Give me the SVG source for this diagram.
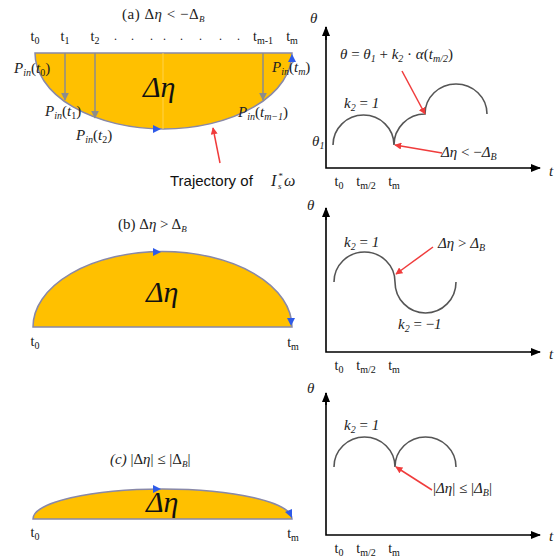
<svg xmlns="http://www.w3.org/2000/svg" width="559" height="557" viewBox="0 0 559 557">
<style>
.serif{font-family:"Liberation Serif","Times New Roman",serif;fill:#222}
.it{font-style:italic}
.t{font-family:"Liberation Serif",serif;font-size:14px;fill:#111}
.sub{font-size:10px}
.big{font-family:"Liberation Serif",serif;font-style:italic;font-size:30px;fill:#111}
.area{fill:#FFC000;stroke:#8888A8;stroke-width:1.5}
.curve{fill:none;stroke:#555;stroke-width:1.6}
.axis{fill:none;stroke:#000;stroke-width:1.6}
.red{stroke:#F03C3C;stroke-width:1.5;fill:none}
.gray{stroke:#8C8C8C;stroke-width:1.5;fill:none}
.blue{fill:#2F5BE8}
</style>
<defs>
<marker id="ar" viewBox="0 0 10 10" refX="9" refY="5" markerWidth="7" markerHeight="7" orient="auto" markerUnits="userSpaceOnUse"><path d="M0,0 L10,5 L0,10 z" fill="#F03C3C"/></marker>
<marker id="ag" viewBox="0 0 10 10" refX="9" refY="5" markerWidth="8" markerHeight="8" orient="auto" markerUnits="userSpaceOnUse"><path d="M0,0 L10,5 L0,10 z" fill="#8C8C8C"/></marker>
<marker id="ak" viewBox="0 0 10 10" refX="9" refY="5" markerWidth="10" markerHeight="10" orient="auto" markerUnits="userSpaceOnUse"><path d="M0,1 L10,5 L0,9 z" fill="#000"/></marker>
</defs>
<rect width="559" height="557" fill="#fff"/>

<!-- Panel (a) left -->
<g id="panel-a-left">
<path class="area" d="M35,53 A128.5,76 0 0,0 292,53 Z"/>
<line x1="163" y1="53" x2="163" y2="129" stroke="#FFD24D" stroke-width="1"/>
<text class="big" x="143" y="97">Δη</text>
<polygon class="blue" points="153,125 161,129 153,133"/>
<polygon class="blue" points="288,62 292,54 296,62"/>
<text class="serif" x="122" y="19" font-size="15" letter-spacing="0.5">(a)  Δ<tspan class="it">η</tspan> &lt; −Δ<tspan class="it" font-size="9" dy="3">B</tspan></text>
<text class="t" x="35" y="41" text-anchor="middle">t<tspan class="sub" dy="3">0</tspan></text>
<text class="t" x="65" y="41" text-anchor="middle">t<tspan class="sub" dy="3">1</tspan></text>
<text class="t" x="95" y="41" text-anchor="middle">t<tspan class="sub" dy="3">2</tspan></text>
<text class="t" x="263" y="41" text-anchor="middle">t<tspan class="sub" dy="3">m-1</tspan></text>
<text class="t" x="292" y="41" text-anchor="middle">t<tspan class="sub" dy="3">m</tspan></text>
<text class="serif" x="114 131 150 163 180 199 219 237" y="40" font-size="12" fill="#AAA">........</text>
<text class="serif" x="14" y="73" font-size="15"><tspan class="it">P</tspan><tspan class="it" font-size="10" dy="3">in</tspan><tspan dy="-3">(</tspan><tspan class="it">t</tspan><tspan font-size="10" dy="3">0</tspan><tspan dy="-3">)</tspan></text>
<text class="serif" x="45" y="116" font-size="15"><tspan class="it">P</tspan><tspan class="it" font-size="10" dy="3">in</tspan><tspan dy="-3">(</tspan><tspan class="it">t</tspan><tspan font-size="10" dy="3">1</tspan><tspan dy="-3">)</tspan></text>
<text class="serif" x="76" y="140" font-size="15"><tspan class="it">P</tspan><tspan class="it" font-size="10" dy="3">in</tspan><tspan dy="-3">(</tspan><tspan class="it">t</tspan><tspan font-size="10" dy="3">2</tspan><tspan dy="-3">)</tspan></text>
<text class="serif" x="238" y="117" font-size="15"><tspan class="it">P</tspan><tspan class="it" font-size="10" dy="3">in</tspan><tspan dy="-3">(</tspan><tspan class="it">t</tspan><tspan class="it" font-size="10" dy="3">m−1</tspan><tspan dy="-3">)</tspan></text>
<text class="serif" x="272" y="72" font-size="15"><tspan class="it">P</tspan><tspan class="it" font-size="10" dy="3">in</tspan><tspan dy="-3">(</tspan><tspan class="it">t</tspan><tspan class="it" font-size="10" dy="3">m</tspan><tspan dy="-3">)</tspan></text>
<text x="170" y="186" font-family="Liberation Sans, Arial, sans-serif" font-size="15" fill="#111">Trajectory of</text>
<text class="serif it" x="271" y="186" font-size="16">I</text>
<text class="serif it" x="278" y="179" font-size="9">*</text>
<text class="serif it" x="278" y="189" font-size="9">s</text>
<text class="serif it" x="284" y="186" font-size="16">ω</text>
</g>

<!-- Panel (a) right -->
<g id="panel-a-right">
<path class="curve" d="M333,145 A30.5,30 0 0,1 394,145 A31,31 0 0,1 425,114 A31,30 0 0,1 487,114"/>
<text class="serif" x="310" y="23" font-size="15"><tspan class="it">θ</tspan></text>
<text class="serif" x="549" y="176" font-size="15"><tspan class="it">t</tspan></text>
<text class="serif" x="312" y="146" font-size="15"><tspan class="it">θ</tspan><tspan class="it" font-size="10" dy="3">1</tspan></text>
<text class="serif" x="344" y="108" font-size="15"><tspan class="it">k</tspan><tspan class="it" font-size="10" dy="3">2</tspan><tspan dy="-3"> = </tspan><tspan class="it">1</tspan></text>
<text class="serif" x="340" y="59" font-size="15"><tspan class="it">θ</tspan> = <tspan class="it">θ</tspan><tspan class="it" font-size="10" dy="3">1</tspan><tspan dy="-3"> + </tspan><tspan class="it">k</tspan><tspan class="it" font-size="10" dy="3">2</tspan><tspan dy="-3"> · </tspan><tspan class="it">α</tspan>(<tspan class="it">t</tspan><tspan class="it" font-size="10" dy="3">m/2</tspan><tspan dy="-3">)</tspan></text>
<text class="serif" x="441" y="157" font-size="15"><tspan class="it">Δη</tspan> &lt; −<tspan class="it">Δ</tspan><tspan class="it" font-size="10" dy="3">B</tspan></text>
<text class="t" x="339" y="186" text-anchor="middle">t<tspan class="sub" dy="3">0</tspan></text>
<text class="t" x="366" y="186" text-anchor="middle">t<tspan class="sub" dy="3">m/2</tspan></text>
<text class="t" x="394" y="186" text-anchor="middle">t<tspan class="sub" dy="3">m</tspan></text>
</g>

<!-- Panel (b) left -->
<g id="panel-b-left">
<path class="area" d="M33,327 A129.5,75.5 0 0,1 292,327 Z"/>
<text class="big" x="146" y="302">Δη</text>
<polygon class="blue" points="153,248 161,252 153,256"/>
<polygon class="blue" points="287,318 295,318 291,326"/>
<text class="serif" x="118" y="229" font-size="15">(b) Δ<tspan class="it">η</tspan> &gt; Δ<tspan class="it" font-size="9" dy="3">B</tspan></text>
<text class="t" x="35" y="346" text-anchor="middle">t<tspan class="sub" dy="3">0</tspan></text>
<text class="t" x="293" y="347" text-anchor="middle">t<tspan class="sub" dy="3">m</tspan></text>
</g>

<!-- Panel (b) right -->
<g id="panel-b-right">
<path class="curve" d="M334,282 A30.5,30 0 0,1 395,282 A30.5,31 0 0,0 456,282"/>
<text class="serif" x="307" y="210" font-size="15"><tspan class="it">θ</tspan></text>
<text class="serif" x="549" y="359" font-size="15"><tspan class="it">t</tspan></text>
<text class="serif" x="344" y="247" font-size="15"><tspan class="it">k</tspan><tspan class="it" font-size="10" dy="3">2</tspan><tspan dy="-3"> = </tspan><tspan class="it">1</tspan></text>
<text class="serif" x="438" y="248" font-size="15"><tspan class="it">Δη</tspan> &gt; <tspan class="it">Δ</tspan><tspan class="it" font-size="10" dy="3">B</tspan></text>
<text class="serif" x="398" y="329" font-size="15"><tspan class="it">k</tspan><tspan class="it" font-size="10" dy="3">2</tspan><tspan dy="-3"> = −</tspan><tspan class="it">1</tspan></text>
<text class="t" x="339" y="370" text-anchor="middle">t<tspan class="sub" dy="3">0</tspan></text>
<text class="t" x="366" y="370" text-anchor="middle">t<tspan class="sub" dy="3">m/2</tspan></text>
<text class="t" x="394" y="370" text-anchor="middle">t<tspan class="sub" dy="3">m</tspan></text>
</g>

<!-- Panel (c) left -->
<g id="panel-c-left">
<path class="area" d="M33,519 A129.5,30 0 0,1 292,519 Z"/>
<text class="big" x="146" y="512">Δη</text>
<polygon class="blue" points="153,485 161,489 153,493"/>
<polygon class="blue" points="285,512 292,509 292,518"/>
<text class="serif" x="110" y="464" font-size="15"><tspan class="it">(c)</tspan> |Δ<tspan class="it">η</tspan>| ≤ |Δ<tspan class="it" font-size="9" dy="3">B</tspan><tspan dy="-3">|</tspan></text>
<text class="t" x="35" y="537" text-anchor="middle">t<tspan class="sub" dy="3">0</tspan></text>
<text class="t" x="293" y="538" text-anchor="middle">t<tspan class="sub" dy="3">m</tspan></text>
</g>

<!-- Panel (c) right -->
<g id="panel-c-right">
<path class="curve" d="M334,467 A30.5,30 0 0,1 395,467 A30.5,30 0 0,1 456,467"/>
<text class="serif" x="307" y="393" font-size="15"><tspan class="it">θ</tspan></text>
<text class="serif" x="549" y="541" font-size="15"><tspan class="it">t</tspan></text>
<text class="serif" x="344" y="430" font-size="15"><tspan class="it">k</tspan><tspan class="it" font-size="10" dy="3">2</tspan><tspan dy="-3"> = </tspan><tspan class="it">1</tspan></text>
<text class="serif" x="433" y="493" font-size="15">|<tspan class="it">Δη</tspan>| ≤ |<tspan class="it">Δ</tspan><tspan class="it" font-size="10" dy="3">B</tspan><tspan dy="-3">|</tspan></text>
<text class="t" x="339" y="553" text-anchor="middle">t<tspan class="sub" dy="3">0</tspan></text>
<text class="t" x="366" y="553" text-anchor="middle">t<tspan class="sub" dy="3">m/2</tspan></text>
<text class="t" x="394" y="553" text-anchor="middle">t<tspan class="sub" dy="3">m</tspan></text>
</g>

<!-- Connectors -->
<g id="connectors">
<line class="gray" x1="65" y1="53" x2="65" y2="100" marker-end="url(#ag)"/>
<line class="gray" x1="95" y1="53" x2="95" y2="118" marker-end="url(#ag)"/>
<line class="gray" x1="263" y1="53" x2="263" y2="100" marker-end="url(#ag)"/>
<line class="red" x1="220" y1="163" x2="213" y2="128" marker-end="url(#ar)"/>
<line class="red" x1="402" y1="71" x2="425" y2="114" marker-end="url(#ar)"/>
<line class="red" x1="442" y1="153" x2="395" y2="145" marker-end="url(#ar)"/>
<line class="red" x1="433" y1="247" x2="396" y2="274" marker-end="url(#ar)"/>
<line class="red" x1="432" y1="490" x2="396" y2="467" marker-end="url(#ar)"/>
<polyline class="axis" points="326,27 326,168 539,168"/>
<line class="axis" x1="326" y1="40" x2="326" y2="27" marker-end="url(#ak)"/>
<line class="axis" x1="530" y1="168" x2="540" y2="168" marker-end="url(#ak)"/>
<polyline class="axis" points="326,208 326,352 539,352"/>
<line class="axis" x1="326" y1="220" x2="326" y2="208" marker-end="url(#ak)"/>
<line class="axis" x1="530" y1="352" x2="540" y2="352" marker-end="url(#ak)"/>
<polyline class="axis" points="326,393 326,535 539,535"/>
<line class="axis" x1="326" y1="405" x2="326" y2="393" marker-end="url(#ak)"/>
<line class="axis" x1="530" y1="535" x2="540" y2="535" marker-end="url(#ak)"/>
</g>
</svg>
